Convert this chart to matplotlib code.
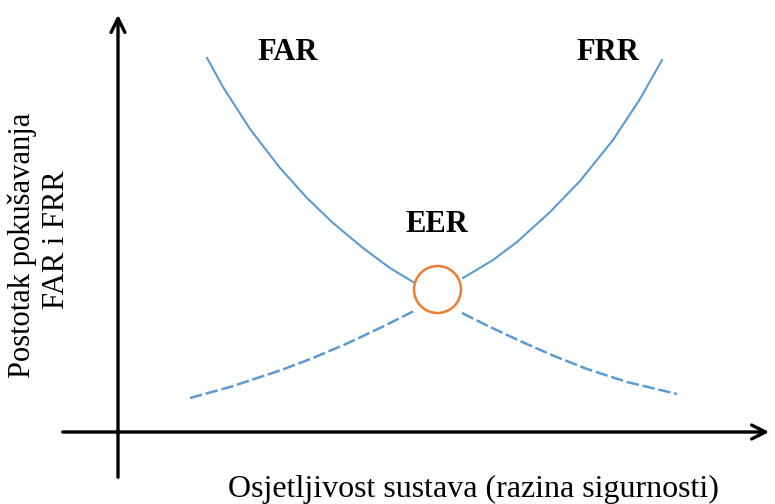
import matplotlib.pyplot as plt
from matplotlib.patches import Circle

# diagram coordinates (x: sensitivity, y: drawn downward like the picture)
far_solid_x = [207, 223, 250, 280, 307, 333, 363, 390, 413]
far_solid_y = [58, 87, 129, 168, 198, 223, 248, 268, 282]
far_dash_x = [462, 487, 520, 553, 587, 627, 677]
far_dash_y = [313, 325.5, 341, 355.5, 369, 382, 394]

frr_dash_x = [190, 230, 280, 313, 347, 380, 413]
frr_dash_y = [398, 387, 370.5, 358, 343.5, 328, 311.5]
frr_solid_x = [463, 493, 517, 550, 580, 613, 640, 662]
frr_solid_y = [278, 260, 242, 212, 181, 140, 99, 60]

eer_x, eer_y, eer_r = 437.5, 289.5, 23.5

blue = '#5B9BD5'
orange = '#ED7D31'
serif = ['Liberation Serif', 'DejaVu Serif']

fig = plt.figure(figsize=(7.75, 5.04), dpi=100)
ax = fig.add_axes([0, 0, 1, 1])
ax.set_xlim(0, 775)
ax.set_ylim(504, 0)
ax.axis('off')

# axes with arrows
ax.annotate('', xy=(772, 432), xytext=(60, 432),
            arrowprops=dict(arrowstyle='->', color='black', lw=2.4, mutation_scale=25))
ax.annotate('', xy=(118, 12), xytext=(118, 480),
            arrowprops=dict(arrowstyle='->', color='black', lw=2.4, mutation_scale=25))

ax.plot(far_solid_x, far_solid_y, color=blue, lw=1.5, solid_joinstyle='round')
ax.plot(far_dash_x, far_dash_y, color=blue, lw=1.8, linestyle=(0, (5, 1.5)))
ax.plot(frr_dash_x, frr_dash_y, color=blue, lw=1.8, linestyle=(0, (5, 1.5)))
ax.plot(frr_solid_x, frr_solid_y, color=blue, lw=1.5, solid_joinstyle='round')

ax.add_patch(Circle((eer_x, eer_y), eer_r, fill=False, edgecolor=orange, lw=1.8))

ax.text(288, 52, 'FAR', family=serif, fontweight='bold', fontsize=22, ha='center', va='center')
ax.text(608, 52, 'FRR', family=serif, fontweight='bold', fontsize=22, ha='center', va='center')
ax.text(437, 225, 'EER', family=serif, fontweight='bold', fontsize=22, ha='center', va='center')

ax.text(22, 245, 'Postotak pokušavanja', family=serif, fontsize=22,
        rotation=90, ha='center', va='center')
ax.text(56, 240, 'FAR i FRR', family=serif, fontsize=22,
        rotation=90, ha='center', va='center')
ax.text(473, 489, 'Osjetljivost sustava (razina sigurnosti)', family=serif, fontsize=23,
        ha='center', va='center')

plt.savefig('out.png', dpi=100)
plt.close()
